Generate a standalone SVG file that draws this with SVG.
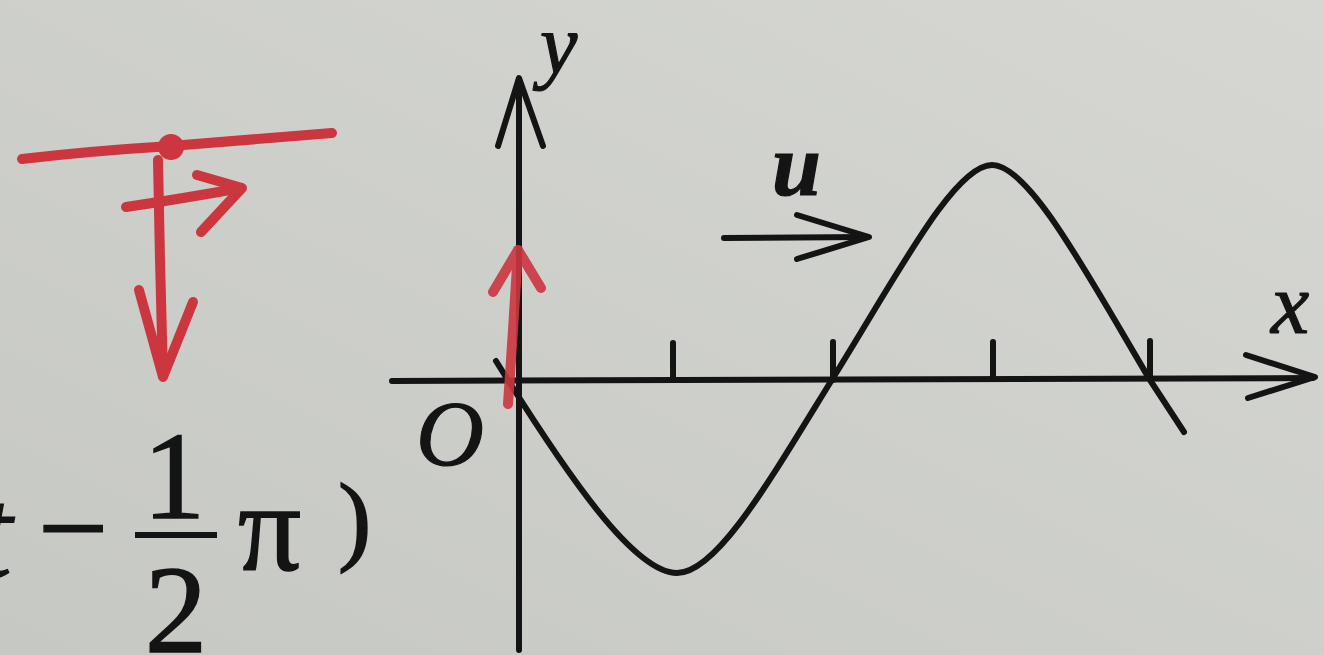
<svg xmlns="http://www.w3.org/2000/svg" width="1324" height="655" viewBox="0 0 1324 655">
  <defs>
    <linearGradient id="paper" x1="1" y1="0" x2="0" y2="1">
      <stop offset="0" stop-color="#d6d7d3"/>
      <stop offset="1" stop-color="#c6c8c3"/>
    </linearGradient>
    <style>
      .ink { fill: none; stroke: #141414; stroke-width: 6; stroke-linecap: round; stroke-linejoin: round; }
      .red { fill: none; stroke: #cc363f; stroke-width: 10; stroke-linecap: round; stroke-linejoin: round; }
      .lbl { font-family: "Liberation Serif", "Times New Roman", serif; font-style: italic; fill: #141414; stroke: #141414; stroke-width: 1.2; }
      .math { font-family: "Liberation Serif", "Times New Roman", serif; fill: #141414; stroke: #141414; stroke-width: 1.5; }
    </style>
  </defs>

  <rect width="1324" height="655" fill="url(#paper)"/>

  <!-- red handwritten annotation at left -->
  <g id="red-sketch">
    <path class="red" stroke-width="12" d="M 22 159 Q 90 151 171 146 Q 260 139 332 133"/>
    <circle cx="171" cy="147" r="13" fill="#cc363f"/>
    <path class="red" stroke-width="10" d="M 158 160 L 160 260 L 163 376"/>
    <path class="red" stroke-width="10" d="M 139 290 L 163 377 L 193 302"/>
    <path class="red" stroke-width="9" d="M 126 207 Q 180 199 241 188"/>
    <path class="red" stroke-width="9" d="M 197 175 L 242 188 L 201 232"/>
  </g>

  <!-- expression fragment -->
  <g id="expression">
    <text class="lbl" x="-24" y="577" font-size="130">t</text>
    <text class="math" x="38" y="570" font-size="125">−</text>
    <text class="math" x="174" y="518" font-size="125" text-anchor="middle">1</text>
    <line x1="135" y1="535" x2="217" y2="535" stroke="#141414" stroke-width="6"/>
    <text class="math" x="176" y="652" font-size="125" text-anchor="middle">2</text>
    <text class="math" x="238" y="570" font-size="125">π</text>
    <text class="math" x="338" y="552" font-size="100" stroke-width="0.5">)</text>
  </g>

  <!-- axes -->
  <g id="axes">
    <line class="ink" x1="392" y1="381" x2="1313" y2="378"/>
    <path class="ink" d="M 1246 355 L 1315 377 L 1248 398"/>
    <line class="ink" x1="519" y1="650" x2="519" y2="80"/>
    <path class="ink" d="M 498 146 L 519 78 L 543 146"/>
    <line class="ink" x1="673" y1="380" x2="673" y2="343"/>
    <line class="ink" x1="833" y1="380" x2="833" y2="342"/>
    <line class="ink" x1="993" y1="379" x2="993" y2="342"/>
    <line class="ink" x1="1150" y1="378" x2="1150" y2="341"/>
  </g>

  <!-- labels -->
  <g id="labels">
    <text class="lbl" x="540" y="73" font-size="84">y</text>
    <text class="lbl" x="1271" y="333" font-size="86">x</text>
    <text class="lbl" x="416" y="465" font-size="94">O</text>
    <text class="lbl" x="772" y="195" font-size="88" font-weight="bold" stroke-width="0.5">u</text>
  </g>

  <!-- wave -->
  <g id="wave">
    <path class="ink" d="M 496 361 C 570 480, 635 573, 677 573 C 717 573, 770 480, 833 378 C 900 270, 955 165, 992 165 C 1029 165, 1086 272, 1150 380 L 1184 432"/>
  </g>

  <!-- velocity arrow u -->
  <g id="u-arrow">
    <line class="ink" x1="724" y1="238" x2="866" y2="237"/>
    <path class="ink" d="M 797 215 L 869 237 L 797 259"/>
  </g>

  <!-- red arrow at origin -->
  <g id="red-origin-arrow" opacity="0.9">
    <path class="red" stroke-width="9" d="M 508 404 L 513 330 L 518 250"/>
    <path class="red" stroke-width="9" d="M 493 292 L 518 250 L 541 288"/>
  </g>
</svg>
